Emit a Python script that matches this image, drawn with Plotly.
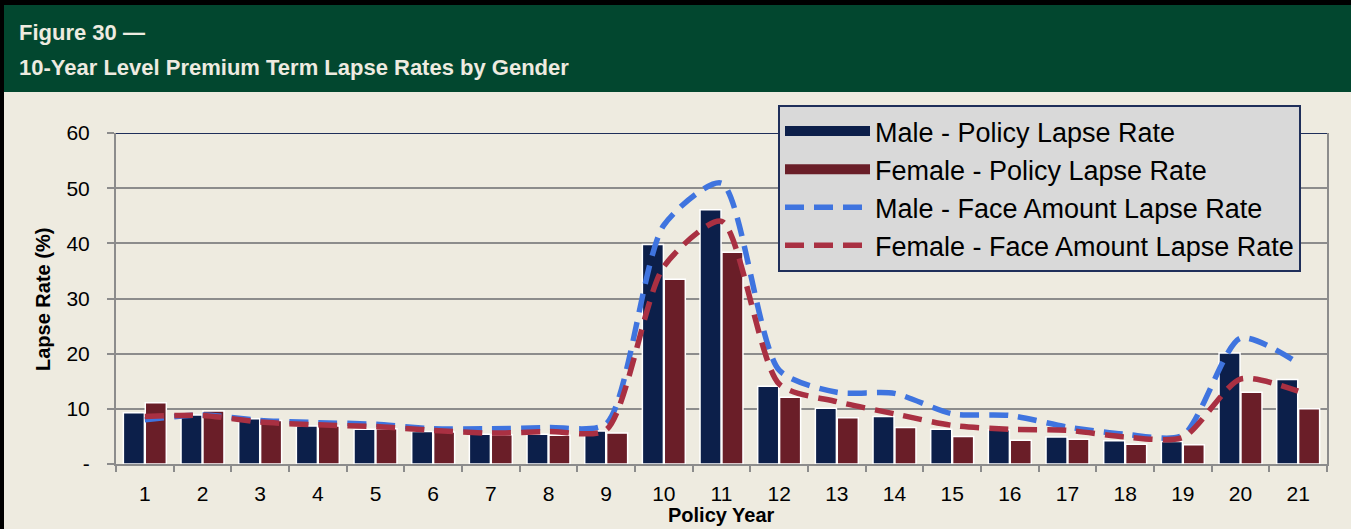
import plotly.graph_objects as go

years = [str(i) for i in range(1, 22)]
male_policy = [9.3, 8.9, 8.2, 6.9, 6.3, 5.9, 5.4, 5.4, 6.0, 39.8, 46.1, 14.1, 10.1, 8.6, 6.3, 6.2, 4.9, 4.2, 4.1, 20.1, 15.3]
female_policy = [11.1, 9.6, 7.9, 6.9, 6.4, 5.8, 5.3, 5.2, 5.6, 33.5, 38.4, 12.1, 8.4, 6.6, 5.0, 4.3, 4.5, 3.6, 3.5, 13.0, 10.0]
male_face = [8.0, 8.9, 7.9, 7.5, 7.2, 6.4, 6.4, 6.6, 7.3, 43.3, 50.9, 17.0, 13.0, 12.8, 9.1, 8.8, 6.7, 5.4, 5.2, 22.8, 18.3]
female_face = [8.6, 8.8, 7.6, 7.1, 6.8, 6.1, 5.6, 5.9, 6.2, 35.8, 44.0, 14.5, 11.3, 9.1, 7.0, 6.3, 6.1, 4.9, 4.8, 15.4, 13.2]
y_ticks = [0, 10, 20, 30, 40, 50, 60]
y_tick_text = ["-", "10", "20", "30", "40", "50", "60"]

BG = "#EEEBE0"
GREEN = "#02472F"
NAVY = "#0C1F4A"
MAROON = "#6A1E28"
BLUE = "#3F74DF"
RED = "#A93042"
FONT = "Liberation Sans, Arial, sans-serif"

# plot-area pixel geometry
L, R, T, B = 116, 1327, 133, 464
W, H = R - L, B - T
def px(x):
    return (x - L) / W
def py(y):
    return (B - y) / H

fig = go.Figure()
fig.add_trace(go.Bar(x=years, y=male_policy, name="Male - Policy Lapse Rate", showlegend=False,
                     marker=dict(color=NAVY, line=dict(color="white", width=1.5))))
fig.add_trace(go.Bar(x=years, y=female_policy, name="Female - Policy Lapse Rate", showlegend=False,
                     marker=dict(color=MAROON, line=dict(color="white", width=1.5))))
# legend swatches for the bar series (wide rectangles as in the reference)
fig.add_trace(go.Scatter(x=[None], y=[None], name="Male - Policy Lapse Rate", mode="lines",
                         line=dict(color=NAVY, width=13)))
fig.add_trace(go.Scatter(x=[None], y=[None], name="Female - Policy Lapse Rate", mode="lines",
                         line=dict(color=MAROON, width=13)))
fig.add_trace(go.Scatter(x=years, y=male_face, name="Male - Face Amount Lapse Rate", mode="lines",
                         line=dict(color=BLUE, width=5.5, dash="19px,10px", shape="spline", smoothing=0.7)))
fig.add_trace(go.Scatter(x=years, y=female_face, name="Female - Face Amount Lapse Rate", mode="lines",
                         line=dict(color=RED, width=5.5, dash="19px,10px", shape="spline", smoothing=0.7)))

shapes = [
    dict(type="rect", xref="paper", yref="paper", x0=px(4), x1=px(1351), y0=py(92), y1=py(5),
         fillcolor=GREEN, line=dict(width=0), layer="below"),
    dict(type="rect", xref="paper", yref="paper", x0=px(0), x1=px(1351), y0=py(5), y1=py(0),
         fillcolor="black", line=dict(width=0)),
    dict(type="rect", xref="paper", yref="paper", x0=px(0), x1=px(4), y0=py(529), y1=py(0),
         fillcolor="black", line=dict(width=0)),
    dict(type="line", xref="paper", yref="y", x0=0, x1=1, y0=60, y1=60,
         line=dict(color="#1F2F5A", width=2)),
]

annotations = [
    dict(text="<b>Figure 30 —</b>", xref="paper", yref="paper", x=px(17), y=py(32),
         xanchor="left", yanchor="middle", showarrow=False,
         font=dict(family=FONT, size=22, color=BG)),
    dict(text="<b>10-Year Level Premium Term Lapse Rates by Gender</b>", xref="paper", yref="paper",
         x=px(17), y=py(67), xanchor="left", yanchor="middle", showarrow=False,
         font=dict(family=FONT, size=22, color=BG)),
    dict(text="<b>Lapse Rate (%)</b>", xref="paper", yref="paper", x=px(43), y=py(300),
         textangle=-90, xanchor="center", yanchor="middle", showarrow=False,
         font=dict(family=FONT, size=20, color="black")),
    dict(text="<b>Policy Year</b>", xref="paper", yref="paper", x=px(721), y=py(515),
         xanchor="center", yanchor="middle", showarrow=False,
         font=dict(family=FONT, size=20, color="black")),
]

fig.update_layout(
    width=1351, height=529,
    margin=dict(l=L, r=1351 - R, t=T, b=529 - B, pad=0),
    paper_bgcolor=BG, plot_bgcolor=BG,
    barmode="group", bargap=0.24, bargroupgap=0.04,
    font=dict(family=FONT, size=20, color="black"),
    shapes=shapes, annotations=annotations,
    legend=dict(x=px(778), y=py(105), xanchor="left", yanchor="top",
                bgcolor="#D9D9D9", bordercolor="#1F2F5A", borderwidth=2,
                font=dict(family=FONT, size=27, color="black"),
                itemwidth=85, traceorder="normal"),
    xaxis=dict(type="category", showgrid=False, showline=True, linecolor="#8C8C8C", linewidth=2,
               ticks="outside", tickson="boundaries", ticklen=6, tickcolor="#8C8C8C", tickwidth=2,
               tickfont=dict(size=21), ticklabelstandoff=10),
    yaxis=dict(range=[0, 60], tickvals=y_ticks, ticktext=y_tick_text, showgrid=True,
               gridcolor="#8C8C8C", gridwidth=1.5, showline=True, linecolor="#8C8C8C", linewidth=2,
               ticks="outside", ticklen=7, tickcolor="#8C8C8C", tickwidth=2, mirror=True,
               tickfont=dict(size=21), ticklabelstandoff=13, zeroline=False),
)

fig.write_html("out.html", config={"displayModeBar": False},
               post_script="document.body.style.margin='0';document.body.style.overflow='hidden';")
